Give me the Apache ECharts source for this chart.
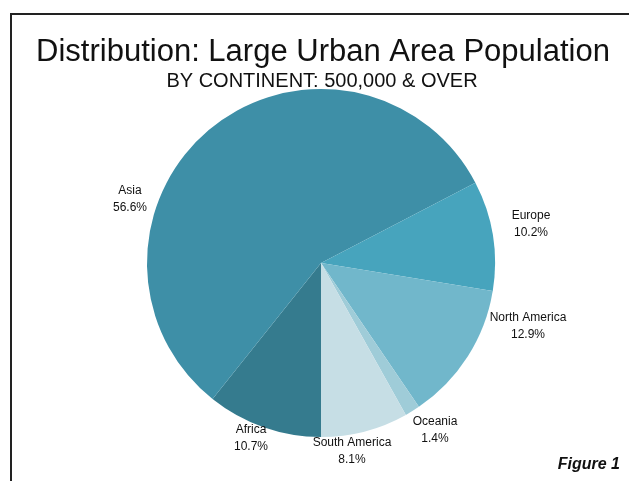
<!DOCTYPE html>
<html lang="en">
<head>
    <meta charset="UTF-8">
    <title>Distribution: Large Urban Area Population</title>
    <script src="https://cdn.jsdelivr.net/npm/echarts@6/dist/echarts.min.js"></script>
    <style>
        html, body { margin: 0; padding: 0; background: #fff; }
        #main { width: 629px; height: 481px; }
    </style>
</head>
<body>
<div id="main"></div>
<script>
    // data
    const continents = ['Africa', 'Asia', 'Europe', 'North America', 'Oceania', 'South America'];
    const shares = [10.7, 56.6, 10.2, 12.9, 1.4, 8.1];
    const sliceColors = ['#357b8e', '#3e8fa7', '#47a4bd', '#71b7cb', '#9fccd8', '#c6dee5'];

    // where each label sits (Excel-style manual placement)
    const labelSpots = [
        [251, 438],
        [130, 199],
        [531, 224],
        [528, 326],
        [435, 430],
        [352, 451]
    ];

    const fontFamily = '"Liberation Sans", Arial, sans-serif';

    const chart = echarts.init(document.getElementById('main'));

    const option = {
        animation: false,
        title: [
            {
                text: 'Distribution: Large Urban Area Population',
                left: 323,
                top: 37,
                textAlign: 'center',
                padding: 0,
                textStyle: { fontFamily: fontFamily, fontSize: 31, fontWeight: 'normal', color: '#111' }
            },
            {
                text: 'BY CONTINENT: 500,000 & OVER',
                left: 322,
                top: 71,
                textAlign: 'center',
                padding: 0,
                textStyle: { fontFamily: fontFamily, fontSize: 20, fontWeight: 'normal', color: '#111' }
            }
        ],
        graphic: [
            {
                type: 'rect',
                shape: { x: 11, y: 14, width: 700, height: 600 },
                style: { fill: 'none', stroke: '#222', lineWidth: 2 },
                silent: true
            },
            {
                type: 'text',
                x: 620,
                y: 473,
                style: {
                    text: 'Figure 1',
                    align: 'right',
                    verticalAlign: 'bottom',
                    font: 'italic bold 16px ' + fontFamily,
                    fill: '#111'
                },
                silent: true
            }
        ],
        series: [
            {
                type: 'pie',
                center: [321, 263],
                radius: 174,
                startAngle: 270,
                clockwise: true,
                color: sliceColors,
                itemStyle: { borderWidth: 0 },
                emphasis: { disabled: true },
                label: {
                    show: true,
                    position: 'outside',
                    formatter: p => p.name + '\n' + p.value.toFixed(1) + '%',
                    fontFamily: fontFamily,
                    fontSize: 12,
                    lineHeight: 17,
                    color: '#111',
                    align: 'center'
                },
                labelLine: { show: false },
                labelLayout: function (params) {
                    const spot = labelSpots[params.dataIndex];
                    return { x: spot[0], y: spot[1], align: 'center', verticalAlign: 'middle', hideOverlap: false };
                },
                data: continents.map((name, i) => ({ name: name, value: shares[i] }))
            }
        ]
    };

    chart.setOption(option);
</script>
</body>
</html>
